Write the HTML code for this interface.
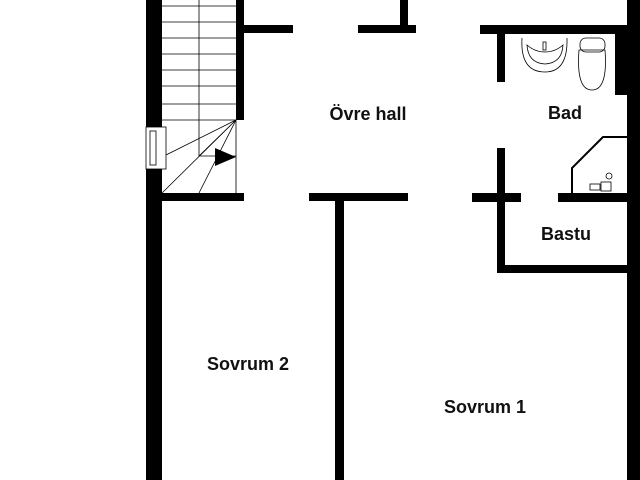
<!DOCTYPE html>
<html><head><style>
body{margin:0;width:640px;height:480px;background:#fff;overflow:hidden}
svg{display:block}
text{font-family:"Liberation Sans",sans-serif;font-weight:bold;font-size:18px;fill:#111;text-anchor:middle}
</style></head><body>
<svg width="640" height="480" viewBox="0 0 640 480">
<g fill="#000">
<rect x="146" y="0" width="16" height="480"/>
<rect x="236" y="0" width="8" height="120"/>
<rect x="146" y="193" width="98" height="8"/>
<rect x="244" y="25" width="49" height="8"/>
<rect x="358" y="25" width="58" height="8"/>
<rect x="400" y="0" width="8" height="33"/>
<rect x="309" y="193" width="99" height="8"/>
<rect x="335" y="201" width="9" height="279"/>
<rect x="480" y="25" width="150" height="9"/>
<rect x="497" y="34" width="8" height="48"/>
<rect x="627" y="0" width="13" height="480"/>
<rect x="615" y="34" width="12" height="61"/>
<rect x="497" y="148" width="8" height="125"/>
<rect x="472" y="193" width="49" height="9"/>
<rect x="558" y="193" width="69" height="9"/>
<rect x="497" y="265" width="130" height="8"/>
</g>
<rect x="146" y="127" width="20" height="42" fill="#fff" stroke="#000" stroke-width="0.8"/>
<rect x="150" y="131" width="6" height="34" fill="none" stroke="#000" stroke-width="0.8"/>
<g stroke="#000" stroke-width="0.8" fill="none">
<path d="M162 6H236M162 22H236M162 38H236M162 54H236M162 70H236M162 86H236M162 104H236M162 120H236"/>
<path d="M199 0V156H236M236 120V193"/>
<path d="M236 120L166 155M236 120L199 156M236 120L162 193M236 120L199 193"/>
<path d="M572 193V168L603 137H627" stroke-width="2"/>
<path d="M522 38Q520 72 545 72Q568 72 567 38"/>
<path d="M527 45Q528 63 545 64Q562 63 563 45Q555 52 545 52Q535 52 527 45Z"/>
<rect x="543" y="42" width="3" height="8"/>
<path d="M579 50Q576 90 592 90Q608 90 605 50Z"/>
<rect x="580" y="38" width="25" height="14" rx="6"/>
<circle cx="609" cy="176" r="3"/>
<rect x="590" y="184" width="10" height="6"/>
<rect x="601" y="182" width="10" height="9"/>
</g>
<polygon points="215,148 236,157 215,166" fill="#000"/>
<text x="368" y="120">Övre hall</text>
<text x="565" y="119">Bad</text>
<text x="566" y="240">Bastu</text>
<text x="248" y="370">Sovrum 2</text>
<text x="485" y="413">Sovrum 1</text>
</svg>
</body></html>
